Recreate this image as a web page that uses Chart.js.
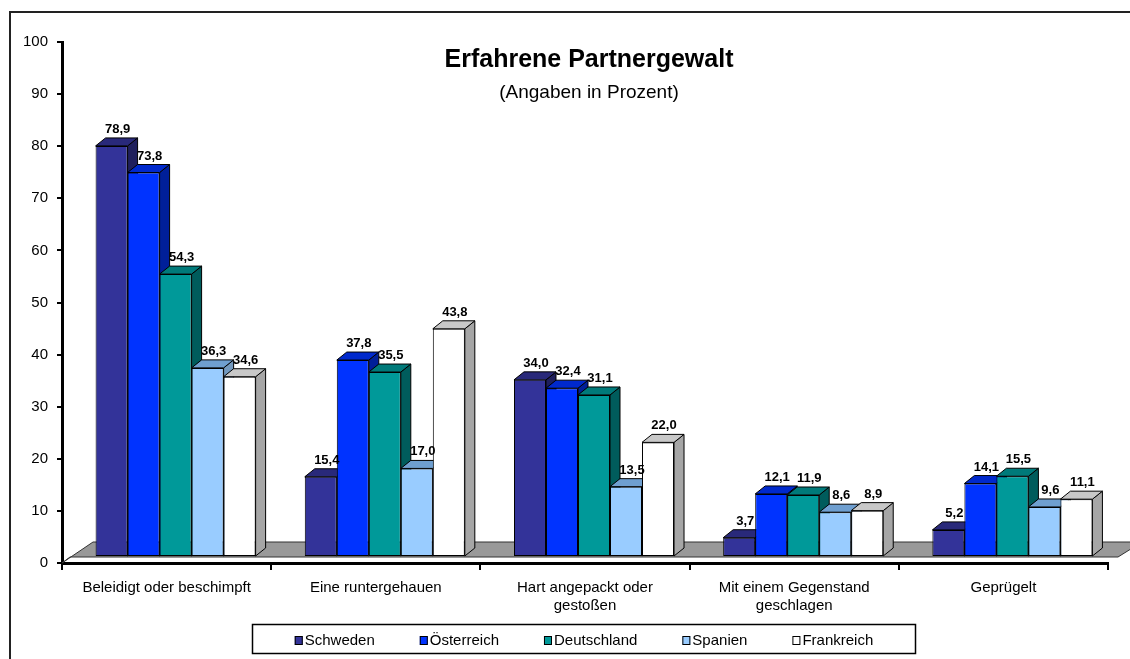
<!DOCTYPE html>
<html lang="de">
<head>
<meta charset="utf-8">
<title>Erfahrene Partnergewalt</title>
<script src="https://cdn.jsdelivr.net/npm/chart.js@4.4.1/dist/chart.umd.min.js"></script>
<style>
  html, body { margin: 0; padding: 0; background: #fff; }
  #chart { display: block; }
</style>
</head>
<body>
<canvas id="chart" width="1130" height="659"></canvas>
<script>
// ======================================================
// --- Daten ---
// ======================================================
const categories = [
  "Beleidigt oder beschimpft",
  "Eine runtergehauen",
  ["Hart angepackt oder", "gestoßen"],
  ["Mit einem Gegenstand", "geschlagen"],
  "Geprügelt",
];
const countries = ["Schweden", "Österreich", "Deutschland", "Spanien", "Frankreich"];

const schweden    = [78.9, 15.4, 34.0, 3.7, 5.2];
const oesterreich = [73.8, 37.8, 32.4, 12.1, 14.1];
const deutschland = [54.3, 35.5, 31.1, 11.9, 15.5];
const spanien     = [36.3, 17.0, 13.5, 8.6, 9.6];
const frankreich  = [34.6, 43.8, 22.0, 8.9, 11.1];

const yTicks = [0, 10, 20, 30, 40, 50, 60, 70, 80, 90, 100];

const chartTitle = "Erfahrene Partnergewalt";
const chartSubtitle = "(Angaben in Prozent)";

// Vorderseite / Deckel / Seite je Land (Excel-3D-Optik)
const frontColors = ["#333399", "#0033ff", "#009999", "#99ccff", "#ffffff"];
const topColors   = ["#29297a", "#0029cc", "#007a7a", "#6f9fd0", "#c8c8c8"];
const sideColors  = ["#1f1f5c", "#001f99", "#005c5c", "#7399bf", "#a6a6a6"];

const FONT = '"Liberation Sans", Arial, sans-serif';

// ======================================================
// --- 3D-Effekt: Boden, Seiten, Deckel, Werte ---
// ======================================================
const depthX = 10, depthY = 8;   // Tiefe einer Säule
const shiftX = 9, shiftY = -6;   // Säulen stehen etwas hinten auf dem Boden

function fmt(v) {
  return v.toFixed(1).replace(".", ",");
}

function poly(ctx, pts, fill) {
  ctx.beginPath();
  ctx.moveTo(pts[0][0], pts[0][1]);
  for (let i = 1; i < pts.length; i++) ctx.lineTo(pts[i][0], pts[i][1]);
  ctx.closePath();
  ctx.fillStyle = fill;
  ctx.fill();
  ctx.stroke();
}

const bars3d = {
  id: "bars3d",
  beforeDatasetsDraw(chart) {
    const { ctx, chartArea: a } = chart;

    // grauer Boden
    ctx.save();
    ctx.strokeStyle = "#333";
    ctx.lineWidth = 1;
    poly(ctx, [
      [a.left, a.bottom],
      [a.left + 31, a.bottom - 21],
      [a.right + 34, a.bottom - 21],
      [a.right + 10, a.bottom - 6],
      [a.left + 8, a.bottom - 6],
    ], "#999999");
    ctx.restore();

    // Seiten und Deckel, danach zeichnet Chart.js die Vorderseiten (verschoben)
    ctx.save();
    ctx.translate(shiftX, shiftY);
    ctx.strokeStyle = "#000";
    ctx.lineWidth = 1;
    const n = chart.data.labels.length;
    for (let j = 0; j < n; j++) {
      chart.data.datasets.forEach((ds, i) => {
        const el = chart.getDatasetMeta(i).data[j];
        const p = el.getProps(["x", "y", "base", "width"], true);
        const l = p.x - p.width / 2, r = p.x + p.width / 2;
        poly(ctx, [[r, p.y], [r + depthX, p.y - depthY], [r + depthX, p.base - depthY], [r, p.base]], sideColors[i]);
        poly(ctx, [[l, p.y], [l + depthX, p.y - depthY], [r + depthX, p.y - depthY], [r, p.y]], topColors[i]);
      });
    }
  },
  afterDatasetsDraw(chart) {
    const { ctx } = chart;
    ctx.restore();

    // Werte über den Säulen
    ctx.save();
    ctx.font = "bold 13px " + FONT;
    ctx.fillStyle = "#000";
    ctx.textAlign = "center";
    ctx.textBaseline = "alphabetic";
    chart.data.datasets.forEach((ds, i) => {
      chart.getDatasetMeta(i).data.forEach((el, j) => {
        const p = el.getProps(["x", "y"], true);
        ctx.fillText(fmt(ds.data[j]), p.x + shiftX + 6, p.y + shiftY - 13);
      });
    });
    ctx.restore();
  },
  afterDraw(chart) {
    const { ctx } = chart;
    ctx.save();

    // Rahmen
    ctx.strokeStyle = "#222";
    ctx.lineWidth = 2;
    ctx.beginPath();
    ctx.moveTo(10, 659);
    ctx.lineTo(10, 12);
    ctx.lineTo(1130, 12);
    ctx.stroke();

    // Titel
    ctx.fillStyle = "#000";
    ctx.textAlign = "center";
    ctx.textBaseline = "middle";
    ctx.font = "bold 25px " + FONT;
    ctx.fillText(chartTitle, 589, 60);
    ctx.font = "19px " + FONT;
    ctx.fillText(chartSubtitle, 589, 93);

    // Legende
    ctx.lineWidth = 1.5;
    ctx.strokeStyle = "#000";
    ctx.strokeRect(252.5, 624.5, 663, 29);
    ctx.font = "15px " + FONT;
    const gap = 45, mark = 9;
    const widths = countries.map((c) => mark + 1 + ctx.measureText(c).width);
    const total = widths.reduce((s, w) => s + w, 0) + gap * (countries.length - 1);
    let x = 584 - total / 2;
    const cy = 641;
    ctx.textAlign = "left";
    countries.forEach((c, i) => {
      ctx.fillStyle = frontColors[i];
      ctx.fillRect(x, cy - 5, mark - 1, mark);
      ctx.lineWidth = 1;
      ctx.strokeStyle = "#000";
      ctx.strokeRect(x + 0.5, cy - 4.5, mark - 2, mark - 1);
      ctx.fillStyle = "#000";
      ctx.fillText(c, x + mark + 1, cy);
      x += widths[i] + gap;
    });
    ctx.restore();
  },
};

// ======================================================
// --- Diagramm ---
// ======================================================
const datasets = [schweden, oesterreich, deutschland, spanien, frankreich].map((d, i) => ({
  label: countries[i],
  data: d,
  backgroundColor: frontColors[i],
  borderColor: "#000",
  borderWidth: 1,
  borderSkipped: false,
  categoryPercentage: 0.765,
  barPercentage: 1.0,
}));

new Chart(document.getElementById("chart"), {
  type: "bar",
  data: { labels: categories, datasets },
  options: {
    responsive: false,
    animation: false,
    devicePixelRatio: 1,
    layout: { padding: { left: 0, top: 42, right: 22, bottom: 0 } },
    plugins: {
      legend: { display: false },
      title: { display: false },
      tooltip: { enabled: false },
    },
    scales: {
      x: {
        afterFit: (s) => { s.height = 96; },
        grid: { offset: true, drawOnChartArea: false, tickLength: 7, color: "#000", lineWidth: 2 },
        border: { color: "#000", width: 3 },
        ticks: { color: "#000", font: { family: FONT, size: 15 }, padding: 9, maxRotation: 0, autoSkip: false },
      },
      y: {
        min: 0,
        max: 100,
        afterFit: (s) => { s.width = 62; },
        afterBuildTicks: (s) => { s.ticks = yTicks.map((v) => ({ value: v })); },
        grid: { drawOnChartArea: false, tickLength: 5, color: "#000", lineWidth: 2 },
        border: { color: "#000", width: 3 },
        ticks: { color: "#000", font: { family: FONT, size: 15 }, padding: 9 },
      },
    },
  },
  plugins: [bars3d],
});
</script>
</body>
</html>
